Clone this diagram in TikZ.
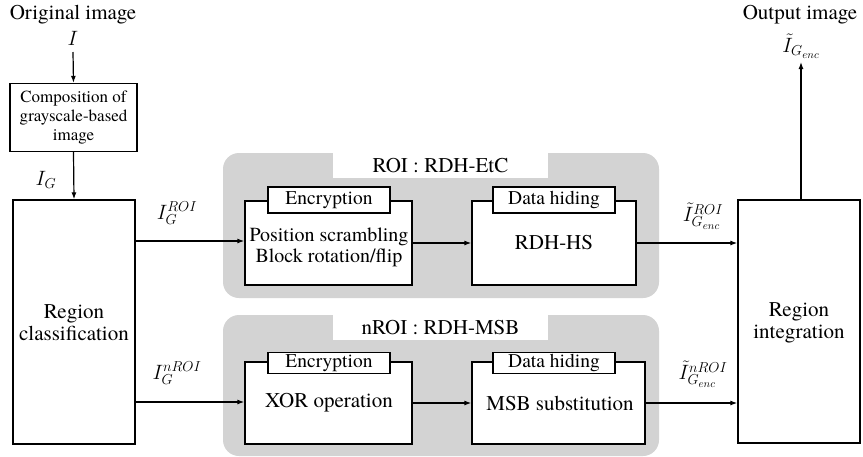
\documentclass[tikz,border=0pt]{standalone}
\usepackage{fontspec}
\setmainfont{texgyretermes}[Extension=.otf,UprightFont=*-regular,BoldFont=*-bold,ItalicFont=*-italic,BoldItalicFont=*-bolditalic]
\usetikzlibrary{arrows.meta}
\definecolor{regiongray}{RGB}{211,211,211}
\begin{document}
\begin{tikzpicture}[x=1pt,y=-1pt,
  box/.style={draw,line width=1.3pt,fill=white,inner sep=0pt},
  tabbox/.style={draw,line width=1.3pt,fill=white,inner sep=0pt,minimum width=122pt,font=\fontsize{19.5}{21}\selectfont},
  txt/.style={align=center,inner sep=0pt,font=\fontsize{21}{22}\selectfont},
  lbl/.style={inner sep=0pt,font=\fontsize{21}{22}\selectfont},
  arr/.style={line width=1.2pt,-{Latex[length=7pt,width=5pt]}},
  region/.style={fill=regiongray,rounded corners=16pt}]
\useasboundingbox (0,0) rectangle (863,456);
% gray regions
\fill[region] (223,153) rectangle (659,298);
\fill[region] (223,315) rectangle (659,456);
\node[fill=white,minimum width=215pt,minimum height=25pt,inner sep=0pt,font=\fontsize{21}{22}\selectfont] (roititle) at (440.5,165.5) {ROI : RDH-EtC};
\node[fill=white,minimum width=215pt,minimum height=25pt,inner sep=0pt,font=\fontsize{21}{22}\selectfont] (nroititle) at (440.5,327.5) {nROI : RDH-MSB};
% left column
\node[txt] (orig) at (73,15) {Original image};
\node[lbl] (I) at (73,38) {$I$};
\node[box,minimum width=127pt,minimum height=68pt,align=center,font=\fontsize{17}{19}\selectfont] (comp) at (73.5,117.5) {Composition of\\grayscale-based\\image};
\node[box,minimum width=122pt,minimum height=244pt] (rc) at (74,322) {};
\node[txt] (rctext) at (74,323) {Region\\classification};
\node[lbl] (IG) at (46,180) {$I_G$};
% ROI branch
\node[box,minimum width=167pt,minimum height=84pt] (enc1) at (328.5,243) {};
\node[tabbox,minimum height=26pt] (tab1) at (329,200) {Encryption};
\node[txt,font=\fontsize{20}{21}\selectfont] (enc1text) at (329,247) {Position scrambling\\Block rotation/flip};
\node[box,minimum width=164pt,minimum height=84pt] (dh1) at (554,243) {};
\node[tabbox,minimum height=26pt] (tab2) at (554,200) {Data hiding};
\node[txt] (dh1text) at (554,243) {RDH-HS};
% nROI branch
\node[box,minimum width=167pt,minimum height=82pt] (enc2) at (328.5,403) {};
\node[tabbox,minimum height=21pt] (tab3) at (329,363) {Encryption};
\node[txt] (enc2text) at (329,403) {XOR operation};
\node[box,minimum width=173pt,minimum height=82pt] (dh2) at (558.5,403) {};
\node[tabbox,minimum height=21pt] (tab4) at (554,363) {Data hiding};
\node[txt] (dh2text) at (560,403) {MSB substitution};
% right column
\node[box,minimum width=122pt,minimum height=243pt] (ri) at (799,321.5) {};
\node[txt] (ritext) at (799,323) {Region\\integration};
\node[txt] (out) at (800,15) {Output image};
\node[lbl] (Iout) at (801,46) {$\tilde{I}_{G_{enc}}$};
% labels
\node[lbl] (lroi) at (177,213) {$I_G^{ROI}$};
\node[lbl] (lnroi) at (177,373) {$I_G^{nROI}$};
\node[lbl] (lroiout) at (703,216) {$\tilde{I}^{ROI}_{G_{enc}}$};
\node[lbl] (lnroiout) at (703,374) {$\tilde{I}^{nROI}_{G_{enc}}$};
% connectors
\coordinate (istart) at (73,52);
\draw[arr] (istart) -- (comp.north);
\draw[arr] (comp.south) -- (rc.north);
\coordinate (a1) at (135,241);
\draw[arr] (a1) -- (enc1.west |- a1);
\draw[arr] (enc1.east) -- (dh1.west);
\draw[arr] (dh1.east) -- (ri.west |- dh1.east);
\coordinate (a2) at (135,402);
\draw[arr] (a2) -- (enc2.west |- a2);
\draw[arr] (enc2.east) -- (dh2.west);
\draw[arr] (dh2.east) -- (ri.west |- dh2.east);
\coordinate (a3) at (801,200);
\draw[arr] (a3) -- (801,62);
\end{tikzpicture}
\end{document}
